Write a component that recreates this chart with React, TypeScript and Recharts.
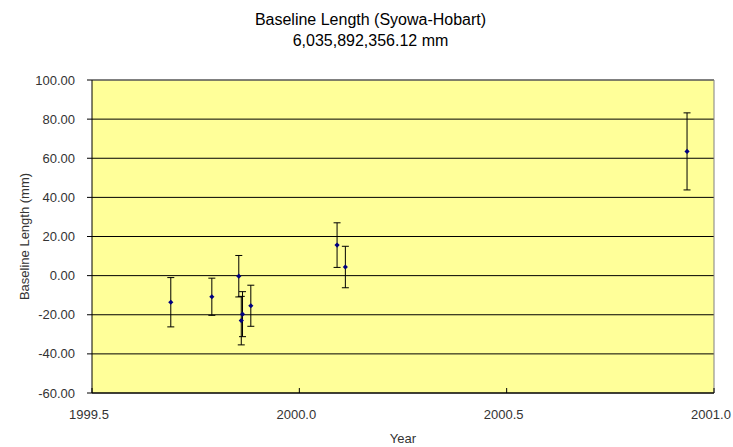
import React from 'react';
import { ScatterChart, Scatter, XAxis, YAxis, CartesianGrid, ErrorBar, ReferenceLine } from 'recharts';

type Obs = {
  year: number;
  value: number;
  err: number;
};

const years = [1999.69, 1999.789, 1999.854, 1999.863, 1999.86, 1999.883, 2000.091, 2000.111, 2000.935];
const values = [-13.6, -10.8, -0.3, -19.7, -23.0, -15.4, 15.6, 4.4, 63.5];
const errors = [12.6, 9.5, 10.6, 11.5, 12.4, 10.5, 11.4, 10.6, 19.7];

const xTicks = [1999.5, 2000.0, 2000.5, 2001.0];
const yTicks = [-60, -40, -20, 0, 20, 40, 60, 80, 100];

const titleLines = ['Baseline Length (Syowa-Hobart)', '6,035,892,356.12 mm'];

const data: Obs[] = years.map((year, i) => ({ year, value: values[i], err: errors[i] }));

const FONT = '"Liberation Sans", Arial, sans-serif';

if (typeof document !== 'undefined') {
  document.body.style.margin = '0';
}

const Diamond = (props: any) => {
  const { cx, cy } = props;
  if (cx == null || cy == null) return null;
  const r = 2.6;
  return (
    <polygon
      points={`${cx},${cy - r} ${cx + r},${cy} ${cx},${cy + r} ${cx - r},${cy}`}
      fill="#000080"
    />
  );
};

const XTick = (props: any) => {
  const { x, y, payload } = props;
  return (
    <g>
      <line x1={x} y1={y} x2={x} y2={y - 5} stroke="#000" />
      <text x={x - 3} y={y + 23} textAnchor="middle" dominantBaseline="middle" fontSize={13} fontFamily={FONT} fill="#333">
        {Number(payload.value).toFixed(1)}
      </text>
    </g>
  );
};

const App: React.FC = () => {
  return (
    <div style={{ position: 'relative', width: 733, height: 447, background: '#fff', fontFamily: FONT }}>
      {titleLines.map((t, i) => (
        <div
          key={t}
          style={{
            position: 'absolute',
            left: 0,
            width: 741,
            top: 10 + i * 21,
            textAlign: 'center',
            fontSize: 16,
            lineHeight: '19px',
            color: '#000',
          }}
        >
          {t}
        </div>
      ))}
      <ScatterChart
        width={733}
        height={447}
        margin={{ top: 80, right: 19, left: 0, bottom: 0 }}
        style={{ position: 'absolute', left: 0, top: 0 }}
      >
        <CartesianGrid vertical={false} stroke="#000" fill="#FFFF99" fillOpacity={1} />
        <XAxis
          type="number"
          dataKey="year"
          domain={[1999.5, 2001]}
          ticks={xTicks}
          allowDataOverflow
          height={54}
          stroke="#000"
          tickSize={0}
          tickMargin={0}
          tick={<XTick />}
          label={{ value: 'Year', position: 'insideBottom', offset: 4, fontSize: 13, fontFamily: FONT, fill: '#333' }}
        />
        <YAxis
          type="number"
          dataKey="value"
          domain={[-60, 100]}
          ticks={yTicks}
          allowDataOverflow
          width={92}
          stroke="#000"
          tickSize={5}
          tickMargin={12}
          tickFormatter={(v: number) => v.toFixed(2)}
          tick={{ fontSize: 13, fontFamily: FONT, fill: '#333' }}
          label={{
            value: 'Baseline Length (mm)',
            angle: -90,
            position: 'insideLeft',
            offset: 24,
            fontSize: 13,
            fontFamily: FONT,
            fill: '#333',
            style: { textAnchor: 'middle' },
          }}
        />
        <ReferenceLine y={100} stroke="#808080" />
        <ReferenceLine x={2001} stroke="#808080" />
        <Scatter data={data} shape={<Diamond />} isAnimationActive={false}>
          <ErrorBar dataKey="err" direction="y" width={3.5} stroke="#000" strokeWidth={1} isAnimationActive={false} />
        </Scatter>
      </ScatterChart>
    </div>
  );
};

export default App;
